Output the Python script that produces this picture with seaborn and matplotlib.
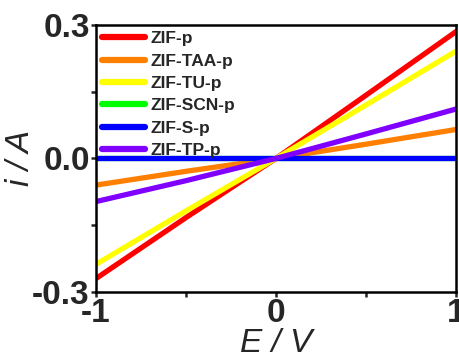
import matplotlib
matplotlib.use("Agg")
import matplotlib.pyplot as plt
import seaborn as sns
import pandas as pd
from matplotlib.ticker import MultipleLocator

# Potential sweep points (V)
potential = [-1.0, -0.5, 0.0, 0.5, 1.0]

# Current response (A) for each sample
zif_p = [-0.270, -0.133, 0.0, 0.142, 0.285]
zif_taa_p = [-0.060, -0.029, 0.0, 0.032, 0.065]
zif_tu_p = [-0.238, -0.118, 0.0, 0.120, 0.241]
zif_scn_p = [0.0, 0.0, 0.0, 0.0, 0.0]
zif_s_p = [0.0, 0.0, 0.0, 0.0, 0.0]
zif_tp_p = [-0.097, -0.050, 0.0, 0.055, 0.111]

labels = ["ZIF-p", "ZIF-TAA-p", "ZIF-TU-p", "ZIF-SCN-p", "ZIF-S-p", "ZIF-TP-p"]
series = [zif_p, zif_taa_p, zif_tu_p, zif_scn_p, zif_s_p, zif_tp_p]
colors = ["#ff0000", "#ff8000", "#ffff00", "#00ff00", "#0000ff", "#8000ff"]

rows = []
for name, vals in zip(labels, series):
    for e, i in zip(potential, vals):
        rows.append({"E": e, "i": i, "sample": name})
df = pd.DataFrame(rows)

sns.set_style("ticks")
plt.rcParams["font.family"] = ["Liberation Sans", "DejaVu Sans"]

fig = plt.figure(figsize=(4.59, 3.56), dpi=100)
ax = fig.add_axes([0.209, 0.18, 0.7845, 0.75])

sns.lineplot(data=df, x="E", y="i", hue="sample", hue_order=labels,
             palette=dict(zip(labels, colors)), linewidth=3.8, ax=ax,
             legend=True)

ax.set_xlim(-1, 1)
ax.set_ylim(-0.3, 0.3)
ax.xaxis.set_minor_locator(MultipleLocator(0.5))
ax.yaxis.set_minor_locator(MultipleLocator(0.15))
ax.set_xticks([-1, 0, 1])
ax.set_xticklabels(["-1", "0", "1"])
ax.set_yticks([-0.3, 0.0, 0.3])
ax.set_yticklabels(["-0.3", "0.0", "0.3"])

for sp in ax.spines.values():
    sp.set_linewidth(1.8)
    sp.set_color("black")

ax.tick_params(which="major", direction="out", length=3.5, width=1.8,
               labelsize=24, pad=1)
ax.tick_params(which="minor", direction="out", length=3.5, width=1.8)
for t in ax.get_xticklabels() + ax.get_yticklabels():
    t.set_fontweight("bold")

ax.set_xlabel("E / V", fontsize=24, fontstyle="italic", labelpad=-1)
ax.set_ylabel("i / A", fontsize=24, fontstyle="italic", labelpad=-3)

leg = ax.legend(loc="upper left", frameon=False, fontsize=12.5,
                handlelength=2.5, handletextpad=0.3, labelspacing=0.42,
                borderaxespad=0.1, borderpad=0.25)
for t in leg.get_texts():
    t.set_fontweight("bold")
for h in leg.get_lines():
    h.set_linewidth(4.5)

fig.savefig("out.png", dpi=100)
